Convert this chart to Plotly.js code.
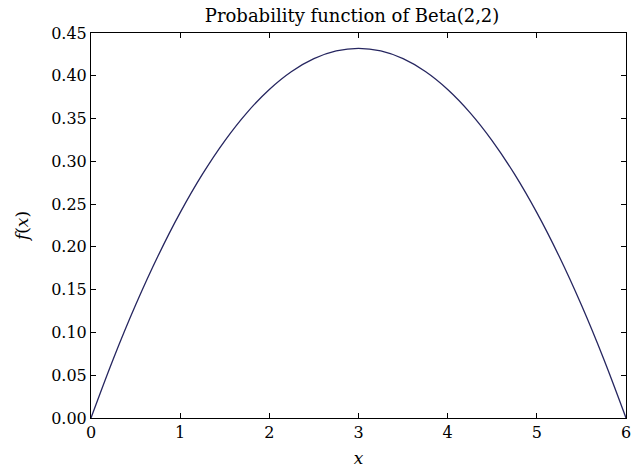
<!DOCTYPE html>
<html>
<head>
<meta charset="utf-8">
<script src="https://cdn.plot.ly/plotly-3.0.1.min.js"></script>
<style>html,body{margin:0;padding:0;background:#fff;}#chart{width:639px;height:468px;}</style>
</head>
<body>
<div id="chart"></div>
<script>
// Values
const xValues = [0, 0.25, 0.5, 0.75, 1, 1.25, 1.5, 1.75, 2, 2.25, 2.5, 2.75, 3,
                 3.25, 3.5, 3.75, 4, 4.25, 4.5, 4.75, 5, 5.25, 5.5, 5.75, 6];
const fValues = [0, 0.069, 0.132, 0.189, 0.240, 0.285, 0.324, 0.357, 0.384, 0.405, 0.420, 0.429, 0.432,
                 0.429, 0.420, 0.405, 0.384, 0.357, 0.324, 0.285, 0.240, 0.189, 0.132, 0.069, 0];
const xTicks = [0, 1, 2, 3, 4, 5, 6];
const yTicks = [0, 0.05, 0.10, 0.15, 0.20, 0.25, 0.30, 0.35, 0.40, 0.45];
const yTickText = yTicks.map(v => v.toFixed(2));

const serif = "DejaVu Serif";

const trace = {
  x: xValues, y: fValues, type: 'scatter', mode: 'lines',
  line: {color: '#262660', width: 1.3, shape: 'spline', smoothing: 1},
  hoverinfo: 'skip'
};

const axisCommon = {
  showgrid: false, zeroline: false, showline: true, linecolor: '#000', linewidth: 1,
  mirror: 'allticks', ticks: 'inside', ticklen: 5, tickwidth: 1, tickcolor: '#000',
  tickfont: {family: serif, size: 16, color: '#000'}
};

const layout = {
  width: 639, height: 468,
  margin: {l: 91, r: 13, t: 33, b: 50, pad: 0},
  paper_bgcolor: '#fff', plot_bgcolor: '#fff',
  showlegend: false,
  font: {family: serif},
  title: {text: 'Probability function of Beta(2,2)', font: {family: serif, size: 18, color: '#000'},
          x: 0.551, xanchor: 'center', y: 0.966, yanchor: 'middle'},
  xaxis: Object.assign({}, axisCommon, {
    range: [0, 6], tickvals: xTicks, ticktext: xTicks.map(String),
    title: {text: '<i>x</i>', font: {family: serif, size: 17, color: '#000'}, standoff: 12}
  }),
  yaxis: Object.assign({}, axisCommon, {
    range: [0, 0.45], tickvals: yTicks, ticktext: yTickText,
    title: {text: '<i>f</i>(<i>x</i>)', font: {family: serif, size: 17, color: '#000'}, standoff: 18}
  })
};

Plotly.newPlot('chart', [trace], layout, {staticPlot: true, displayModeBar: false});
</script>
</body>
</html>
